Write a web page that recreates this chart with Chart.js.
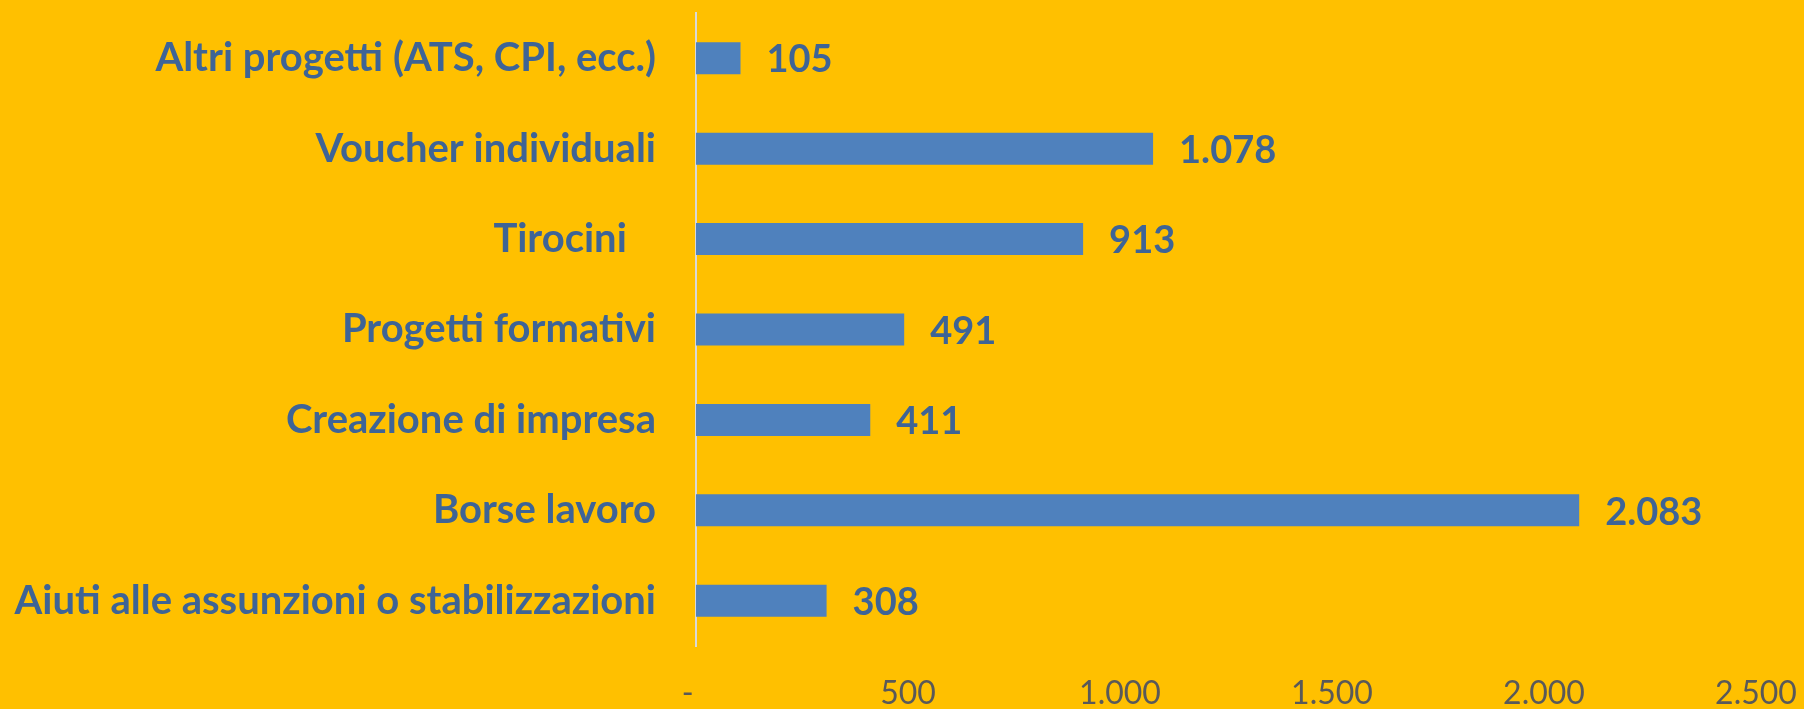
<!DOCTYPE html>
<html>
<head>
<meta charset="utf-8">
<script src="https://cdn.jsdelivr.net/npm/chart.js@4/dist/chart.umd.min.js"></script>
<style>
  html, body { margin: 0; padding: 0; background: #FFC000; }
  #wrap { width: 1804px; height: 709px; }
</style>
</head>
<body>
<div id="wrap"><canvas id="chart" width="1804" height="709"></canvas></div>
<script>
// ── Data ──────────────────────────────────────────────
const categories = [
  'Altri progetti (ATS, CPI, ecc.)',
  'Voucher individuali',
  'Tirocini   ',
  'Progetti formativi',
  'Creazione di impresa',
  'Borse lavoro',
  'Aiuti alle assunzioni o stabilizzazioni',
];
const values = [105, 1078, 913, 491, 411, 2083, 308];
const xTicks = [0, 500, 1000, 1500, 2000, 2500];

const colors = {
  bg: '#FFC000',
  bar: '#4F81BD',
  label: '#3E6496',
  tick: '#595959',
  axis: '#D9D9D9',
};

// Italian thousands separator (1.078)
function fmt(v) {
  return String(Math.round(v)).replace(/\B(?=(\d{3})+(?!\d))/g, '.');
}

// Value labels at bar ends
const valueLabels = {
  id: 'valueLabels',
  afterDatasetsDraw(chart) {
    const ctx = chart.ctx;
    const meta = chart.getDatasetMeta(0);
    ctx.save();
    ctx.font = 'bold 38px Lato, sans-serif';
    ctx.fillStyle = colors.label;
    ctx.textAlign = 'left';
    ctx.textBaseline = 'middle';
    meta.data.forEach((bar, i) => {
      ctx.fillText(fmt(values[i]), bar.x + 26, bar.y + 2);
    });
    ctx.restore();
  },
};

new Chart(document.getElementById('chart'), {
  type: 'bar',
  data: {
    labels: categories,
    datasets: [{
      data: values,
      backgroundColor: colors.bar,
      borderWidth: 0,
      barPercentage: 0.354,
      categoryPercentage: 1,
    }],
  },
  options: {
    indexAxis: 'y',
    responsive: false,
    animation: false,
    layout: { padding: { top: 13, right: 0, bottom: 0, left: 0 } },
    plugins: {
      legend: { display: false },
      tooltip: { enabled: false },
    },
    scales: {
      x: {
        min: xTicks[0],
        max: xTicks[xTicks.length - 1],
        afterBuildTicks: s => { s.ticks = xTicks.map(v => ({ value: v })); },
        afterFit: s => {
          s.height = 63;
          s.paddingLeft = 0;
          s.paddingRight = 48;
        },
        grid: { display: false, drawTicks: false },
        border: { display: false },
        ticks: {
          padding: 28,
          color: colors.tick,
          font: { family: 'Lato, sans-serif', size: 32 },
          callback: v => v === 0 ? '-  ' : fmt(v),
        },
      },
      y: {
        afterFit: s => {
          s.width = 696;
          s.paddingTop = 0;
          s.paddingBottom = 0;
        },
        grid: { display: false, drawTicks: false },
        border: { display: true, color: colors.axis, width: 2 },
        ticks: {
          padding: 40,
          color: colors.label,
          font: { family: 'Lato, sans-serif', size: 40, weight: 'bold' },
        },
      },
    },
  },
  plugins: [valueLabels],
});
</script>
</body>
</html>
